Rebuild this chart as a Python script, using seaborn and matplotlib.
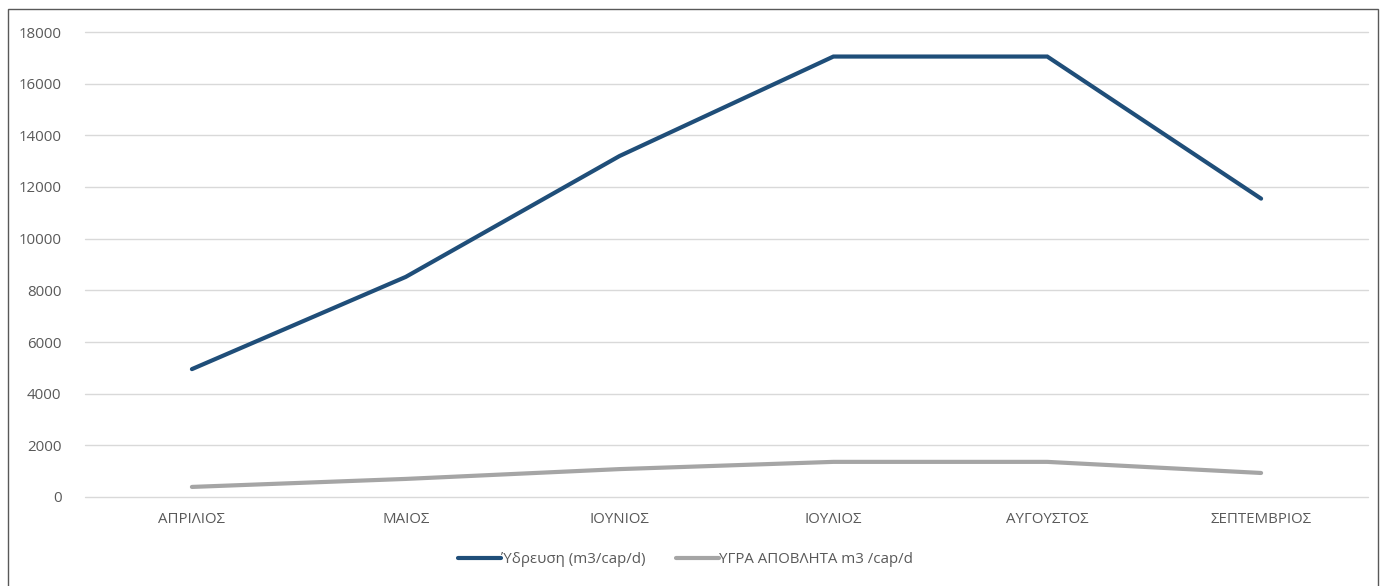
import matplotlib
matplotlib.use("Agg")
import matplotlib.pyplot as plt
from matplotlib.patches import Rectangle
import seaborn as sns
import pandas as pd

months = ["ΑΠΡΙΛΙΟΣ", "ΜΑΙΟΣ", "ΙΟΥΝΙΟΣ", "ΙΟΥΛΙΟΣ", "ΑΥΓΟΥΣΤΟΣ", "ΣΕΠΤΕΜΒΡΙΟΣ"]
water_supply = [4950, 8520, 13200, 17050, 17050, 11550]
wastewater = [390, 700, 1080, 1360, 1360, 930]
series_names = ["Ύδρευση (m3/cap/d)", "ΥΓΡΑ ΑΠΟΒΛΗΤΑ m3 /cap/d"]
y_ticks = [0, 2000, 4000, 6000, 8000, 10000, 12000, 14000, 16000, 18000]

df = pd.DataFrame({
    "month": months * 2,
    "pos": list(range(len(months))) * 2,
    "value": water_supply + wastewater,
    "series": [series_names[0]] * len(months) + [series_names[1]] * len(months),
})

sns.set_theme(style="white")
plt.rcParams["font.family"] = ["Open Sans", "DejaVu Sans"]

fig = plt.figure(figsize=(13.84, 5.86), dpi=100)
ax = fig.add_axes([85 / 1384, 1 - 497 / 586, (1368 - 85) / 1384, (497 - 32) / 586])

palette = {series_names[0]: "#1F4E79", series_names[1]: "#A5A5A5"}
sns.lineplot(data=df, x="pos", y="value", hue="series", palette=palette,
             linewidth=3.0, ax=ax, legend=True, zorder=3)
for line in ax.lines:
    line.set_solid_capstyle("round")
    line.set_solid_joinstyle("miter")

ax.set_xlim(-0.5, len(months) - 0.5)
ax.set_ylim(0, 18000)
ax.set_xticks(range(len(months)))
ax.set_xticklabels(months)
ax.set_yticks(y_ticks)
ax.set_yticklabels([str(t) for t in y_ticks])
ax.tick_params(axis="both", length=0, labelsize=10.8, colors="#595959")
ax.tick_params(axis="x", pad=11)
ax.tick_params(axis="y", pad=17)
ax.set_xlabel("")
ax.set_ylabel("")
ax.grid(axis="y", color="#D9D9D9", linewidth=1.0)
for gl in ax.get_ygridlines():
    gl.set_clip_on(False)
ax.set_axisbelow(True)
for s in ax.spines.values():
    s.set_visible(False)

# legend centred under the whole chart area
handles, labels = ax.get_legend_handles_labels()
leg = ax.legend(handles, labels, loc="center", bbox_to_anchor=(0.468, -0.135),
                ncol=2, frameon=False, fontsize=10.8, handlelength=2.9,
                handletextpad=0.0, columnspacing=2.0)
for t in leg.get_texts():
    t.set_color("#595959")
for h in leg.get_lines():
    h.set_linewidth(3.0)

fig.patches.append(Rectangle((8 / 1384, -0.02), (1378 - 8) / 1384, 1 - 9 / 586 + 0.02,
                             transform=fig.transFigure, fill=False,
                             edgecolor="#595959", linewidth=1.0))

fig.savefig("out.png", dpi=100)
